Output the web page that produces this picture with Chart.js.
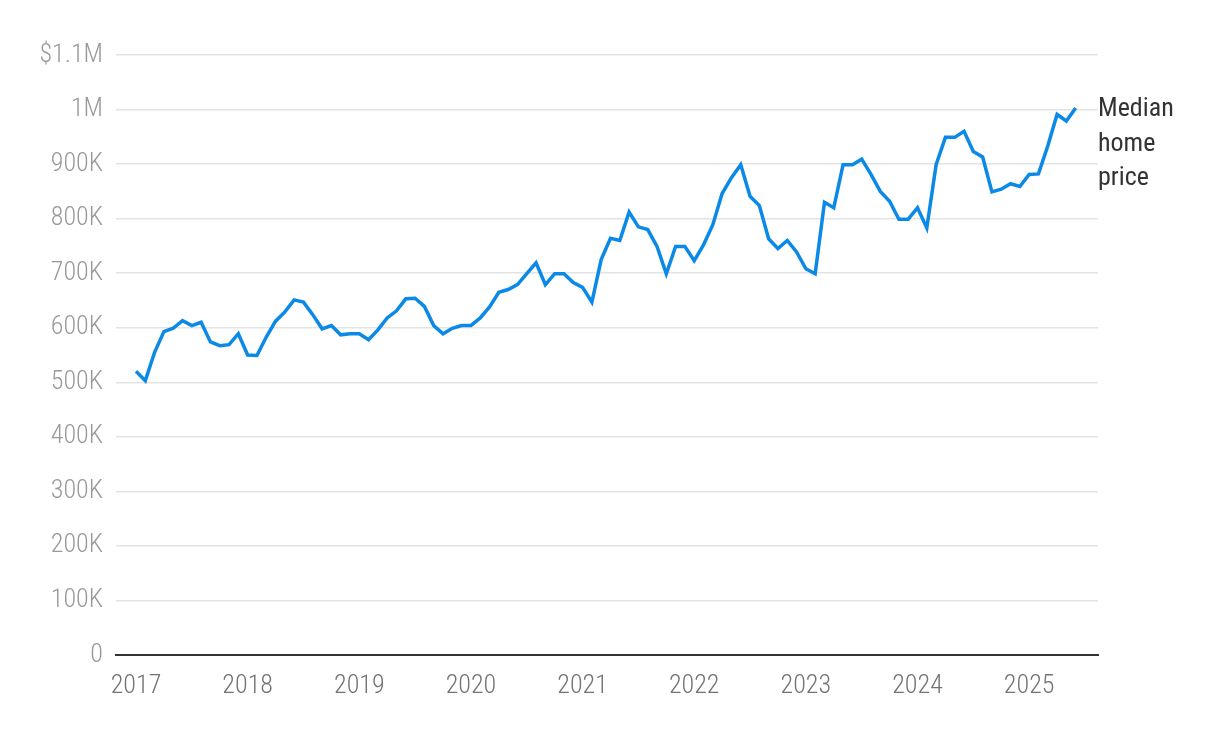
<!DOCTYPE html>
<html>
<head>
<meta charset="utf-8">
<script src="https://cdn.jsdelivr.net/npm/chart.js@4"></script>
<style>
  html, body { margin: 0; padding: 0; background: #fff; }
  #wrap { width: 1220px; height: 742px; }
</style>
</head>
<body>
<div id="wrap"><canvas id="priceChart" width="1220" height="742"></canvas></div>
<script>
// monthly median home price, Jan 2017 - Jun 2025 (in thousands)
var years = [2017, 2018, 2019, 2020, 2021, 2022, 2023, 2024, 2025];
var prices = [
  520, 503, 555, 593, 599, 613, 604, 610, 574, 567, 569, 589,   // 2017
  550, 549, 583, 612, 629, 651, 647, 624, 598, 604, 587, 589,   // 2018
  589, 578, 596, 618, 631, 653, 654, 639, 604, 589, 599, 604,   // 2019
  604, 618, 638, 665, 670, 679, 699, 719, 679, 699, 699, 683,   // 2020
  674, 647, 725, 764, 760, 812, 785, 780, 749, 699, 749, 749,   // 2021
  723, 752, 789, 846, 875, 899, 841, 824, 763, 745, 760, 739,   // 2022
  708, 699, 830, 820, 899, 899, 909, 881, 850, 832, 799, 799,   // 2023
  820, 783, 899, 949, 949, 960, 923, 913, 849, 854, 864, 859,   // 2024
  881, 882, 933, 991, 979, 1003                                 // 2025
];
var seriesLabel = ['Median', 'home', 'price'];

var FONT = '"Roboto Condensed", "Liberation Sans Narrow", sans-serif';

// draw the series label next to the last point
var endLabel = {
  id: 'endLabel',
  afterDatasetsDraw: function(chart) {
    var ctx = chart.ctx;
    var last = prices.length - 1;
    var y = chart.scales.y.getPixelForValue(prices[last] * 1000);
    var x = chart.chartArea.right;
    ctx.save();
    ctx.font = '400 26px ' + FONT;
    ctx.fillStyle = '#333';
    ctx.textAlign = 'left';
    ctx.textBaseline = 'middle';
    seriesLabel.forEach(function(line, i) {
      ctx.fillText(line, x, y + 2 + i * 34.5);
    });
    ctx.restore();
  }
};

var ctx = document.getElementById('priceChart').getContext('2d');
new Chart(ctx, {
  type: 'line',
  data: {
    datasets: [{
      data: prices.map(function(v, i) { return { x: i, y: v * 1000 }; }),
      borderColor: '#0a8ae6',
      borderWidth: 3.5,
      pointRadius: 0,
      tension: 0,
      fill: false
    }]
  },
  options: {
    responsive: false,
    animation: false,
    layout: { padding: { top: 55, right: 122, bottom: 0, left: 0 } },
    plugins: { legend: { display: false }, tooltip: { enabled: false } },
    scales: {
      x: {
        type: 'linear',
        min: -2.15,
        max: 103.4,
        afterBuildTicks: function(scale) {
          scale.ticks = years.map(function(yr, i) { return { value: i * 12 }; });
        },
        afterFit: function(scale) { scale.height = 87; },
        grid: { display: false, drawTicks: false },
        border: { display: true, color: '#333', width: 2 },
        ticks: {
          padding: 16,
          color: '#737373',
          maxRotation: 0,
          autoSkip: false,
          font: { family: FONT, size: 26, weight: 300 },
          callback: function(v) { return String(2017 + Math.round(v / 12)); }
        }
      },
      y: {
        min: 0,
        max: 1100000,
        afterFit: function(scale) { scale.width = 116; },
        grid: { color: '#e3e3e3', lineWidth: 1.5, drawTicks: false },
        border: { display: false },
        ticks: {
          stepSize: 100000,
          padding: 13,
          color: '#999',
          font: { family: FONT, size: 26, weight: 300 },
          callback: function(v) {
            if (v === 0) return '0';
            if (v === 1100000) return '$1.1M';
            if (v === 1000000) return '1M';
            return (v / 1000) + 'K';
          }
        }
      }
    }
  },
  plugins: [endLabel]
});
</script>
</body>
</html>
